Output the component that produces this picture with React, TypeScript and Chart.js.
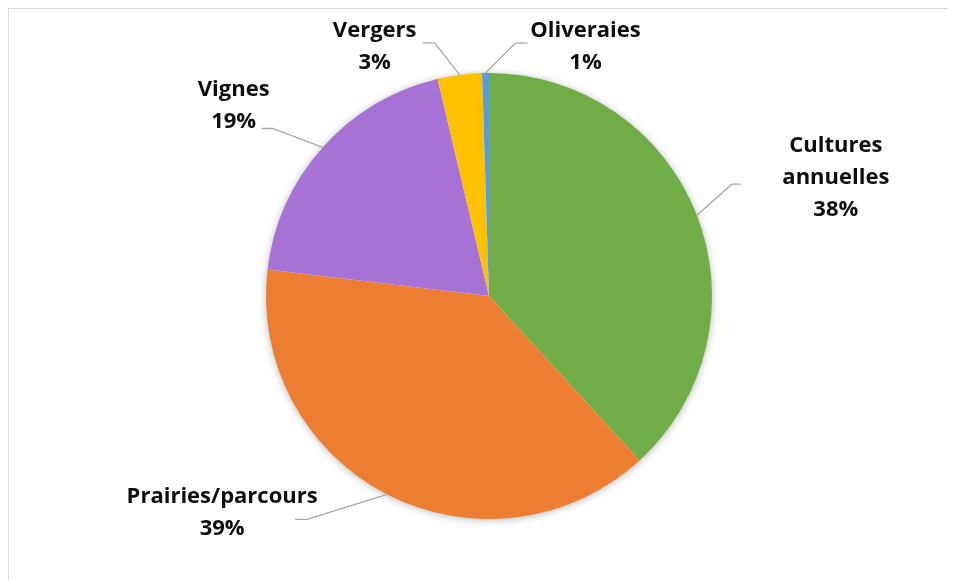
import React, { useEffect, useRef } from "react";
import { Chart, registerables } from "chart.js";

Chart.register(...registerables);

const categories = ["Cultures annuelles", "Prairies/parcours", "Vignes", "Vergers", "Oliveraies"];
const labelLines = [["Cultures", "annuelles", "38%"], ["Prairies/parcours", "39%"], ["Vignes", "19%"], ["Vergers", "3%"], ["Oliveraies", "1%"]];
const values = [38.2, 38.7, 19.4, 3.2, 0.5];
const colors = ["#70AD47", "#ED7D31", "#A672D6", "#FFC000", "#5B9BD5"];

// leader line / label layout offsets relative to the slice's outer mid point (style only)
const elbowOffsets = [[35, -31], [-80, 25], [-50, -19], [-25, -32], [30, -30]];
const endOffsets = [[44, -31], [-92, 25], [-61, -19], [-37, -32], [42, -30]];
const labelOffsets = [[139, -37], [-165, 18], [-89, -42], [-85, -28], [100, -26]];

const FONT = "bold 22px 'Open Sans', Lato, sans-serif";
const LINE_H = 32;

const shadowPlugin = {
  id: "pieShadow",
  beforeDatasetsDraw(chart: any) {
    const arc = chart.getDatasetMeta(0).data[0];
    if (!arc) return;
    const { x, y, outerRadius } = arc.getProps(["x", "y", "outerRadius"], true);
    const ctx = chart.ctx;
    ctx.save();
    ctx.shadowColor = "rgba(0,0,0,0.35)";
    ctx.shadowBlur = 9;
    ctx.shadowOffsetX = 0;
    ctx.shadowOffsetY = 1;
    ctx.fillStyle = "#ffffff";
    ctx.beginPath();
    ctx.arc(x, y, outerRadius - 1, 0, Math.PI * 2);
    ctx.fill();
    ctx.restore();
  },
};

const labelPlugin = {
  id: "pieLabels",
  afterDatasetsDraw(chart: any) {
    const ctx = chart.ctx;
    const meta = chart.getDatasetMeta(0);
    meta.data.forEach((arc: any, i: number) => {
      const { x, y, startAngle, endAngle, outerRadius } = arc.getProps(
        ["x", "y", "startAngle", "endAngle", "outerRadius"],
        true
      );
      const mid = (startAngle + endAngle) / 2;
      const ex = x + Math.cos(mid) * outerRadius;
      const ey = y + Math.sin(mid) * outerRadius;
      ctx.save();
      ctx.strokeStyle = "#A6A6A6";
      ctx.lineWidth = 1.3;
      ctx.beginPath();
      ctx.moveTo(ex, ey);
      ctx.lineTo(ex + elbowOffsets[i][0], ey + elbowOffsets[i][1]);
      ctx.lineTo(ex + endOffsets[i][0], ey + endOffsets[i][1]);
      ctx.stroke();
      ctx.fillStyle = "#0D0D0D";
      ctx.font = FONT;
      ctx.textAlign = "center";
      ctx.textBaseline = "middle";
      const lines = labelLines[i];
      const cx = ex + labelOffsets[i][0];
      const cy = ey + labelOffsets[i][1];
      const top = cy - ((lines.length - 1) * LINE_H) / 2;
      lines.forEach((t, k) => ctx.fillText(t, cx, top + k * LINE_H));
      ctx.restore();
    });
  },
};

export default function App() {
  const ref = useRef<HTMLCanvasElement>(null);
  useEffect(() => {
    document.body.style.overflow = "hidden";
    if (!ref.current) return;
    const chart = new Chart(ref.current, {
      type: "pie",
      data: {
        labels: categories,
        datasets: [
          {
            data: values,
            backgroundColor: colors,
            borderWidth: 0,
          },
        ],
      },
      options: {
        responsive: false,
        animation: false,
        layout: { padding: { left: 257, right: 244, top: 64, bottom: 61 } },
        plugins: { legend: { display: false }, tooltip: { enabled: false } },
      },
      plugins: [shadowPlugin, labelPlugin],
    });
    return () => chart.destroy();
  }, []);
  return (
    <div
      style={{
        width: 960,
        height: 600,
        border: "1px solid #D9D9D9",
        background: "#fff",
      }}
    >
      <canvas ref={ref} width={947} height={571} style={{ display: "block" }} />
    </div>
  );
}
